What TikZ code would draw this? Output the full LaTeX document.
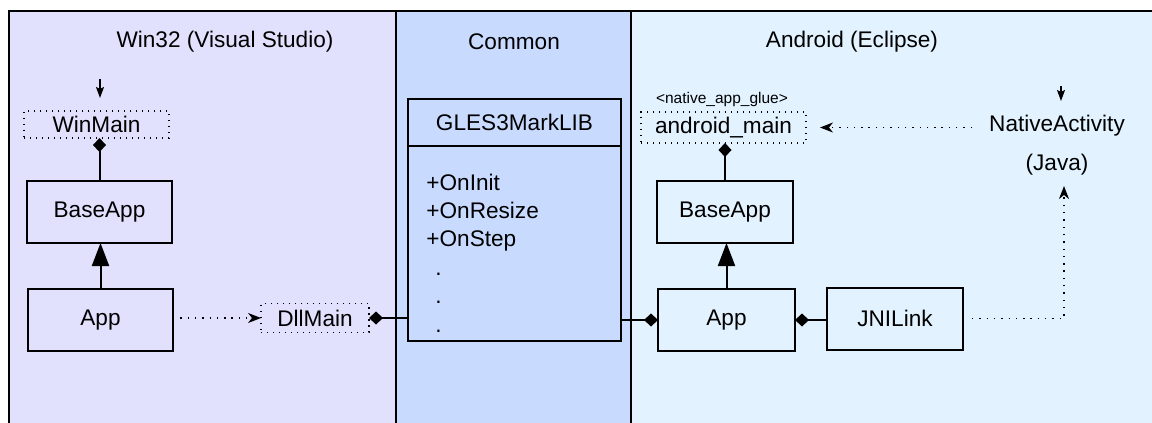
\documentclass[tikz,border=0pt]{standalone}
\usepackage{fontspec}
\setmainfont{Liberation Sans}
\usetikzlibrary{arrows.meta,positioning}

\definecolor{wincol}{RGB}{225,225,253}
\definecolor{comcol}{RGB}{201,218,255}
\definecolor{andcol}{RGB}{226,243,255}

\newcommand\boxfont{\fontsize{11.3}{13.5}\selectfont}
\newcommand\gluefont{\fontsize{7.75}{9}\selectfont}

\tikzset{
  cls/.style={draw,line width=1pt,minimum width=72.5pt,minimum height=31pt,inner sep=0pt,outer sep=0pt},
  glue/.style={draw,line width=0.6pt,dash pattern=on 0.6pt off 2.4pt,inner sep=0pt,outer sep=0pt},
  solidline/.style={line width=1pt},
  dotline/.style={line width=0.7pt,dash pattern=on 0.7pt off 2.95pt},
  has/.style={-{Diamond[length=7pt,width=6.5pt]}},
  isa/.style={-{Triangle[length=11.5pt,width=8.5pt]}},
  calls/.style={-{Stealth[length=6.5pt,width=5pt,inset=2pt]}},
  entry/.style={line width=0.7pt,-{Stealth[length=5.5pt,width=4pt,inset=1pt]}},
}

\begin{document}
\begin{tikzpicture}[x=0.5pt,y=-0.5pt,font=\boxfont]
  \useasboundingbox (0,0) rectangle (1152,423);
  \clip (0,0) rectangle (1152,423);
  % the three panels
  \fill[wincol] (9,11) rectangle (396,430);
  \fill[comcol] (396,11) rectangle (631,430);
  \fill[andcol] (631,11) rectangle (1160,430);
  \draw[line width=1pt] (9,430) -- (9,11) -- (1160,11)
    (396,11) -- (396,430) (631,11) -- (631,430);

  \node (wintitle) at (225,42) {Win32 (Visual Studio)};
  \node (comtitle) at (514,42) {Common};
  \node (andtitle) at (852,42) {Android (Eclipse)};

  % Win32
  \node[glue,minimum width=72.5pt,minimum height=13.5pt] (winmain) at (96.5,124.5) {WinMain};
  \node[cls] (winbase) at (99.5,212) {BaseApp};
  \node[cls] (winapp) at (100.5,320) {App};
  \node[glue,minimum width=54pt,minimum height=14.5pt] (dllmain) at (315,318) {DllMain};

  % common library
  \node[cls,minimum width=106.5pt,minimum height=23.5pt] (libhead) at (514.5,122.5) {GLES3MarkLIB};
  \node[cls,minimum width=106.5pt,minimum height=97.5pt,anchor=north] (libbody) at (libhead.south) {};
  \foreach \m [count=\i from 0] in {+OnInit,+OnResize,+OnStep}
    \node[anchor=base west,inner sep=0pt] (op\i) at (426,{190+28.4*\i}) {\m};
  \foreach \i in {3,4,5}
    \node[anchor=base west,inner sep=0pt] (op\i) at (435,{190+28.4*\i}) {.};

  % Android
  \node[glue,minimum width=82.5pt,minimum height=15.5pt] (andmain) at (723.5,127.5) {android\_main};
  \node[font=\gluefont] (gluelabel) at (722,99) {<native\_app\_glue>};
  \node[cls,minimum width=68pt] (andbase) at (725,212) {BaseApp};
  \node[cls,minimum width=68.5pt] (andapp) at (726.5,320) {App};
  \node[cls,minimum width=68pt] (jnilink) at (895,318.5) {JNILink};
  \node[align=center] (native) at (1057,145) {NativeActivity\\[6pt](Java)};

  \coordinate (winstart) at (100,79);
  \coordinate (winend) at (100,98);
  \coordinate (nativestart) at (1061,86);
  \coordinate (nativeend) at (1061,101);
  \coordinate (nativeout) at (972,127.5);
  \coordinate (nativein) at (1064,186);

  % connectors
  \draw[entry] (winstart) -- (winend);
  \draw[entry] (nativestart) -- (nativeend);
  \draw[solidline,has] (winbase.north) -- (winbase.north |- winmain.south);
  \draw[solidline,isa] (winapp.north) -- (winapp.north |- winbase.south);
  \draw[dotline,calls] (winapp.east |- dllmain) -- (dllmain.west);
  \draw[solidline,has] (libbody.west |- dllmain.east) -- (dllmain.east);
  \draw[solidline,has] (libbody.east |- andapp) -- (andapp.west);
  \draw[solidline,isa] (andapp.north) -- (andapp.north |- andbase.south);
  \draw[solidline,has] (andbase.north) -- (andbase.north |- andmain.south);
  \draw[solidline,has] (jnilink.west |- andapp.east) -- (andapp.east);
  \draw[dotline,calls,shorten <=4.5pt] (jnilink.east) -| (nativein);
  \draw[dotline,calls,shorten >=7pt] (nativeout) -- (andmain.east);
\end{tikzpicture}
\end{document}
